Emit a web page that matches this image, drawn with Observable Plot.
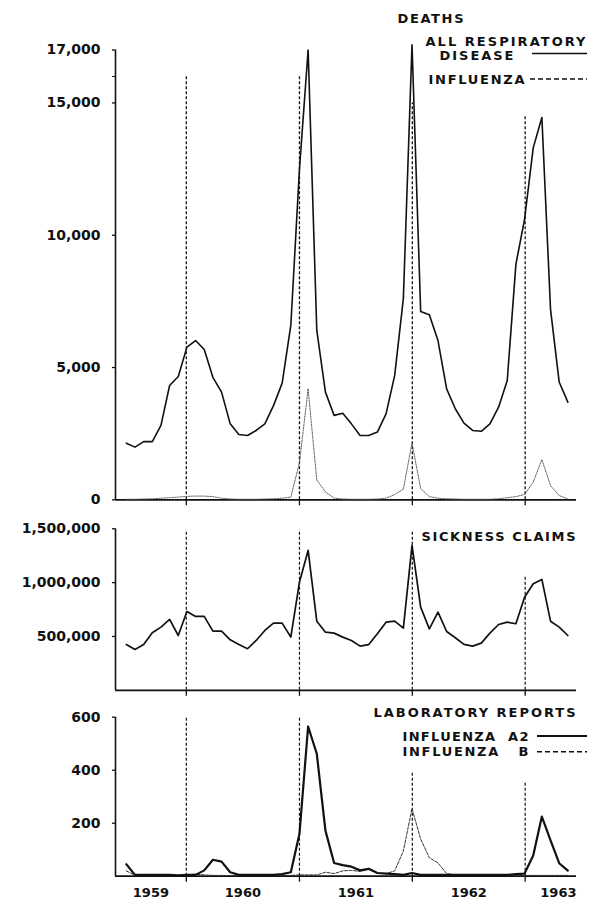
<!DOCTYPE html>
<html><head><meta charset="utf-8">
<script src="https://cdn.jsdelivr.net/npm/d3@7"></script>
<script src="https://cdn.jsdelivr.net/npm/@observablehq/plot@0.6"></script>
<style>
body{margin:0;background:#fff;}
#chart{width:600px;height:899px;}
#chart svg{display:block;}
</style></head><body><div id="chart"></div>
<script>
// ---- data: 4-weekly periods starting mid-1959 ----
const firstPeriod = "1959-06-21";
const periodDays = 28;
const deathsAll = [2140,1990,2200,2200,2810,4320,4660,5770,6020,5680,
  4630,4070,2870,2470,2430,2620,2870,3560,4410,6590,
  12500,17000,6400,4070,3190,3270,2870,2430,2430,2560,
  3250,4700,7600,17200,7120,6990,6020,4190,3440,2900,
  2620,2590,2870,3500,4510,8900,10600,13300,14450,7200,
  4450,3690];
const deathsFlu = [20,20,30,40,60,80,100,130,140,140,
  120,60,30,20,20,20,30,40,60,100,
  1400,4200,750,300,60,30,20,20,20,30,
  60,200,400,2150,420,120,60,40,30,20,
  20,20,20,40,80,120,200,670,1520,540,
  160,30];
const sicknessClaims = [425000,379000,425000,534000,587000,658000,509000,732000,686000,686000,
  549000,549000,469000,425000,386000,463000,556000,624000,624000,494000,
  1005000,1299000,642000,540000,531000,494000,463000,410000,425000,525000,
  633000,642000,577000,1346000,772000,571000,726000,546000,488000,426000,
  410000,438000,531000,611000,633000,618000,865000,990000,1030000,642000,
  587000,509000];
const labA2 = [45,5,5,5,5,5,3,5,5,22,
  62,55,15,5,5,5,5,5,8,15,
  160,565,462,172,50,42,36,22,28,12,
  10,8,5,12,5,5,5,5,5,5,
  5,5,5,5,5,8,10,78,225,135,
  49,21];
const labB = [20,3,2,2,2,2,3,5,8,5,
  3,3,2,2,2,2,2,2,2,3,
  5,5,5,15,10,20,22,18,25,12,
  10,20,95,255,140,70,50,10,5,3,
  3,3,3,3,3,3,3,3,3,3,
  3,3];
const yearStarts = ["1960-01-01","1961-01-01","1962-01-01","1963-01-01"];
const deathsMarkerTops = [16000,16000,15000,14500];
const claimsMarkerTops = [1490000,1490000,1470000,1065000];
const labMarkerTops = [600,600,392,354];
const yearLabels = ["1959","1960","1961","1962","1963"];
const deathsTicks = [0,5000,10000,15000,17000];
const claimsTicks = [500000,1000000,1500000];
const labTicks = [200,400,600];
const xStart = "1959-05-17", xEnd = "1963-06-16";

// ---- build tables ----
const t0 = new Date(firstPeriod);
const rows = deathsAll.map((v, i) => ({
  date: d3.utcDay.offset(t0, i * periodDays),
  all: v, flu: deathsFlu[i], claims: sicknessClaims[i], a2: labA2[i], b: labB[i]
}));
const markers = tops => yearStarts.map((d, i) => ({date: new Date(d), top: tops[i]}));
const xDomain = [new Date(xStart), new Date(xEnd)];

const W = 600, ML = 115, MR = 24;
const ink = "#111";
const common = {
  width: W, marginLeft: ML, marginRight: MR,
  x: {type: "utc", domain: xDomain},
  style: {fontFamily: "'DejaVu Sans', sans-serif", fontSize: "14px", fontWeight: "bold", color: ink, background: "white"}
};
const fmt = d3.format(",");
const axisY = ticks => Plot.axisY({ticks, tickFormat: fmt, tickSize: 3, tickPadding: 12, label: null, strokeWidth: 1.3});
const axisX = () => Plot.axisX({ticks: yearStarts.map(d => new Date(d)), tickSize: 6, tickFormat: () => "", label: null, strokeWidth: 1.3});
const frameLines = () => [
  Plot.ruleX([xDomain[0]], {stroke: ink, strokeWidth: 1.6}),
  Plot.ruleY([0], {stroke: ink, strokeWidth: 1.8})
];
const annot = (items, frameTop) => items.map((a) =>
  Plot.text([a.text], {frameAnchor: "top-left", dx: a.left - ML, dy: a.y - frameTop,
    textAnchor: "start", lineAnchor: "middle", fontSize: 13, fill: ink}));
const fixAnnot = (svg, items) => items.forEach((a) => {
  d3.select(svg).selectAll("text").filter(function() { return this.textContent === a.text; })
    .attr("textLength", a.right - a.left).attr("lengthAdjust", "spacing");
});
const swatch = (svg, x1, x2, y, dash, w) => {
  d3.select(svg).append("line").attr("x1", x1).attr("x2", x2).attr("y1", y).attr("y2", y)
    .attr("stroke", ink).attr("stroke-width", w).attr("stroke-dasharray", dash);
};

const root = document.getElementById("chart");

// ---- panel 1: deaths ----
const p1Top = 49.5;
const a1 = [
  {text: "DEATHS", left: 397, right: 463, y: 18.5},
  {text: "ALL RESPIRATORY", left: 425, right: 585, y: 41.5},
  {text: "DISEASE", left: 439, right: 513, y: 55.5},
  {text: "INFLUENZA", left: 428, right: 524, y: 79}
];
const p1 = Plot.plot({
  ...common, height: 510, marginTop: p1Top, marginBottom: 10.7,
  y: {domain: [0, 17000]},
  marks: [
    ...frameLines(),
    axisY(deathsTicks),
    Plot.axisY({ticks: [16000], tickSize: 3, tickFormat: () => "", label: null}),
    axisX(),
    Plot.ruleX(markers(deathsMarkerTops), {x: "date", y1: 0, y2: "top", stroke: ink, strokeWidth: 1.3, strokeDasharray: "3,2"}),
    Plot.line(rows, {x: "date", y: "flu", stroke: "#555", strokeWidth: 0.9, strokeDasharray: "1.5,1.2"}),
    Plot.line(rows, {x: "date", y: "all", stroke: ink, strokeWidth: 1.6}),
    ...annot(a1, p1Top)
  ]
});
fixAnnot(p1, a1);
swatch(p1, 532, 587, 53.5, null, 1.6);
swatch(p1, 530, 587, 79, "5,3", 1.6);
root.appendChild(p1);

// ---- panel 2: sickness claims ----
const p2Top = 18.3;
const a2 = [{text: "SICKNESS CLAIMS", left: 421, right: 575, y: 26}];
const p2 = Plot.plot({
  ...common, height: 190, marginTop: p2Top, marginBottom: 10.2,
  y: {domain: [0, 1500000]},
  marks: [
    ...frameLines(),
    axisY(claimsTicks),
    axisX(),
    Plot.ruleX(markers(claimsMarkerTops), {x: "date", y1: 0, y2: "top", stroke: ink, strokeWidth: 1.2, strokeDasharray: "3,2"}),
    Plot.line(rows, {x: "date", y: "claims", stroke: ink, strokeWidth: 1.7}),
    ...annot(a2, p2Top)
  ]
});
fixAnnot(p2, a2);
root.appendChild(p2);

// ---- panel 3: laboratory reports ----
const p3Top = 16.7;
const a3 = [
  {text: "LABORATORY REPORTS", left: 373, right: 575, y: 12.7},
  {text: "INFLUENZA\u00A0\u00A0A2", left: 402, right: 528, y: 36.7},
  {text: "INFLUENZA\u00A0\u00A0\u00A0B", left: 402, right: 528, y: 51.7}
];
const yearPos = yearLabels.map((label, i) => {
  const y = +label;
  const s = Math.max(new Date(`${y}-01-01`), xDomain[0]);
  const e = Math.min(new Date(`${y + 1}-01-01`), xDomain[1]);
  return {label, date: new Date((s + e) / 2), last: i === yearLabels.length - 1};
});
const p3 = Plot.plot({
  ...common, height: 199, marginTop: p3Top, marginBottom: 23.3,
  y: {domain: [0, 600]},
  marks: [
    ...frameLines(),
    axisY(labTicks),
    axisX(),
    Plot.ruleX(markers(labMarkerTops), {x: "date", y1: 0, y2: "top", stroke: ink, strokeWidth: 1.2, strokeDasharray: "3,2"}),
    Plot.line(rows, {x: "date", y: "b", stroke: "#333", strokeWidth: 1, strokeDasharray: "3,1.5"}),
    Plot.line(rows, {x: "date", y: "a2", stroke: ink, strokeWidth: 2.2}),
    Plot.text(yearPos.filter(d => !d.last), {x: "date", text: "label", frameAnchor: "bottom", lineAnchor: "middle", dy: 16.5, fontSize: 13, fill: ink}),
    Plot.text(yearPos.filter(d => d.last), {x: () => xDomain[1], text: "label", frameAnchor: "bottom", lineAnchor: "middle", dy: 16.5, textAnchor: "end", fontSize: 13, fill: ink}),
    ...annot(a3, p3Top)
  ]
});
fixAnnot(p3, a3);
swatch(p3, 537, 587, 36, null, 1.8);
swatch(p3, 537, 587, 51.7, "5,3", 1.6);
root.appendChild(p3);
</script>
</body></html>
